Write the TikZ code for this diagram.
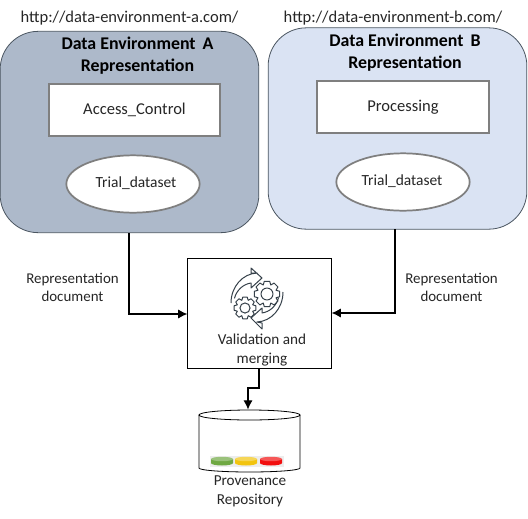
\documentclass[tikz,border=0pt]{standalone}
\usepackage{fontspec}
\setmainfont{Carlito}
\usetikzlibrary{arrows.meta,shapes.geometric,calc}
\definecolor{envA}{HTML}{ADB9CA}
\definecolor{envB}{HTML}{DAE3F3}
\definecolor{edgeA}{HTML}{4A5560}
\definecolor{inner}{HTML}{7F7F7F}
\definecolor{txt}{HTML}{262626}
\definecolor{iconc}{HTML}{36414A}
\tikzset{
  envbox/.style={draw=edgeA,line width=0.6pt,rounded corners=28.5pt,minimum width=194pt,minimum height=151pt,inner sep=0pt},
  inbox/.style={draw=inner,fill=white,line width=1.3pt,minimum width=128.5pt,minimum height=38.5pt,inner sep=0pt,font=\fontsize{12.4pt}{15pt}\selectfont,text=txt},
  inell/.style={ellipse,draw=inner,fill=white,line width=1.3pt,minimum width=100pt,minimum height=43pt,inner sep=0pt},
  elltext/.style={font=\fontsize{11.6pt}{13pt}\selectfont,text=txt,inner sep=0pt},
  urlt/.style={font=\fontsize{12.4pt}{15pt}\selectfont,text=txt,inner sep=0pt},
  titlet/.style={font=\fontsize{13.4pt}{16.5pt}\selectfont\bfseries,text=black,align=center,inner sep=0pt},
  lab/.style={font=\fontsize{11.2pt}{13.5pt}\selectfont,text=txt,align=center,inner sep=0pt},
  conn/.style={draw=black,line width=1pt,-{Latex[length=7pt,width=7pt]}},
  iconline/.style={draw=iconc,line width=0.75pt,line join=round},
}
\newcommand{\gearshape}[3]{% x,y,outer radius
  \draw[iconline]
    ($(#1,#2)+(-12:#3)$)
    \foreach \k in {0,...,7}{
      -- ($(#1,#2)+(\k*45-12:#3)$) -- ($(#1,#2)+(\k*45+12:#3)$) -- ($(#1,#2)+(\k*45+22:#3*0.76)$) -- ($(#1,#2)+(\k*45+23:#3*0.76)$)
    } -- cycle;
  \draw[iconline] (#1,#2) circle[radius=#3*0.46];
}
\begin{document}
\begin{tikzpicture}[x=0.75pt,y=-0.75pt]
\useasboundingbox (0,0) rectangle (528,518);
% environment boxes
\node[envbox,fill=envA] (envA) at (129.5,132) {};
\node[envbox,fill=envB] (envB) at (397.5,128.5) {};
\node[urlt] (urlA) at (129.5,18) {http://data-environment-a.com/};
\node[urlt] (urlB) at (393,18) {http://data-environment-b.com/};
\node[titlet] (titleA) at (137.5,56) {Data Environment\, A\\Representation};
\node[titlet] (titleB) at (405,53) {Data Environment\, B\\Representation};
\node[inbox] (access) at (134.5,110) {Access\_Control};
\node[inbox] (proc) at (403,107) {Processing};
\node[inell] (trialA) at (133,184) {};
\node[inell] (trialB) at (403,182) {};
\node[elltext] (tA) at (136,183.5) {Trial\_dataset};
\node[elltext] (tB) at (402,181.5) {Trial\_dataset};
% merge box
\node[draw=black,line width=0.6pt,fill=white,minimum width=107.5pt,minimum height=82.5pt,inner sep=0pt] (merge) at (259.5,313) {};
\node[font=\fontsize{11.4pt}{14.5pt}\selectfont,text=txt,align=center,inner sep=0pt] (mergeT) at (262,350) {Validation and\\merging};
% icon
\gearshape{267}{294}{13}
\gearshape{245}{308}{11}
\draw[iconline]
  (231,303) arc[start angle=180,end angle=268,x radius=27,y radius=30]
  -- (251,273) -- (251,268) -- (262,278) -- (251,288) -- (251,283)
  arc[start angle=262,end angle=195,x radius=20,y radius=21];
\draw[iconline]
  (283,292) arc[start angle=0,end angle=88,x radius=27,y radius=30]
  -- (262,323) -- (262,329) -- (251,318) -- (262,308) -- (262,313)
  arc[start angle=82,end angle=15,x radius=20,y radius=21];
% connector labels
\node[lab] (docA) at (72.5,287.5) {Representation\\document};
\node[lab] (docB) at (451.5,287.5) {Representation\\document};
% cylinder
\coordinate (cylL) at (199,415);
\coordinate (cylR) at (300,415);
\draw[line width=0.6pt,fill=white] (cylL) -- (199,468) arc[start angle=180,end angle=0,x radius=50.5,y radius=4] -- (cylR);
\node[ellipse,draw=black,line width=0.6pt,fill=white,minimum width=75.75pt,minimum height=7.5pt,inner sep=0pt] (repoTop) at (249.5,415) {};
\foreach \cx/\colr/\nm in {222/6FA842/dg,246/F2C40F/dy,271/F20F0F/dr}{
  \definecolor{c\nm}{HTML}{\colr}
  \fill[black!7] (\cx-12.5,456) rectangle (\cx+12.5,467);
  \fill[c\nm] (\cx-11,459) -- (\cx-11,463) arc[start angle=180,end angle=0,x radius=11,y radius=2.5] -- (\cx+11,459) -- cycle;
  \fill[c\nm!70!white] (\cx,459) ellipse[x radius=11,y radius=2.2];
}
\node[lab,font=\fontsize{11.4pt}{14.5pt}\selectfont] (repoT) at (250,491.5) {Provenance\\Repository};
% connectors
\coordinate (bendA) at (129,314);
\coordinate (bendB) at (395,313);
\coordinate (b1) at (259,388);
\coordinate (b2) at (248,388);
\draw[conn] (129,233) -- (bendA) -- (merge.west |- bendA);
\draw[conn] (395,229) -- (bendB) -- (merge.east |- bendB);
\draw[conn] (merge.south -| b1) -- (b1) -- (b2) -- (b2 |- repoTop.north);
\end{tikzpicture}
\end{document}
